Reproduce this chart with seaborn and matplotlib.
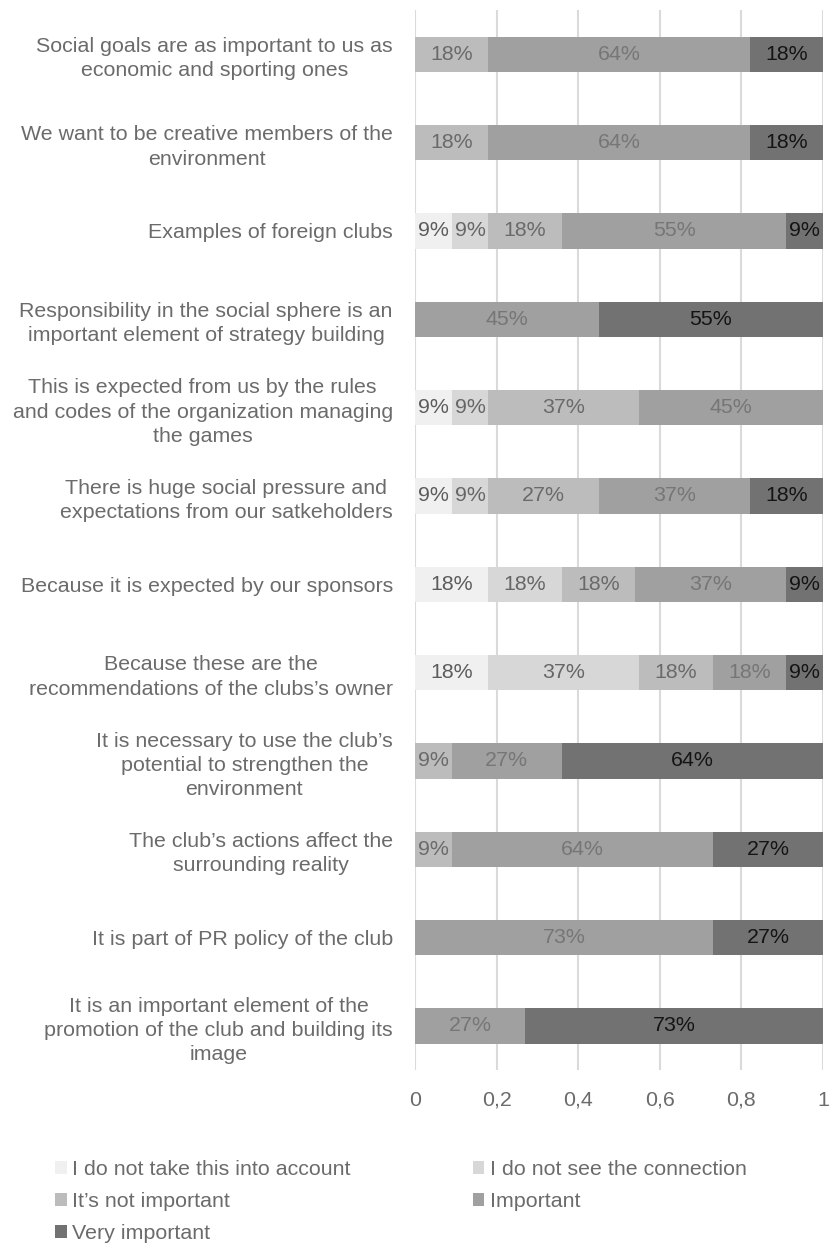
import numpy as np
import matplotlib
matplotlib.use("Agg")
import matplotlib.pyplot as plt
from matplotlib.patches import Patch
import seaborn as sns

sns.set_style("white")
plt.rcParams["font.family"] = ["Liberation Sans", "DejaVu Sans"]

# Survey statements, top to bottom
statements = [
    "Social goals are as important to us as\neconomic and sporting ones",
    "We want to be creative members of the\nenvironment",
    "Examples of foreign clubs",
    "Responsibility in the social sphere is an\nimportant element of strategy building",
    "This is expected from us by the rules\nand codes of the organization managing\nthe games",
    "There is huge social pressure and\nexpectations from our satkeholders",
    "Because it is expected by our sponsors",
    "Because these are the\nrecommendations of the clubs\u2019s owner",
    "It is necessary to use the club\u2019s\npotential to strengthen the\nenvironment",
    "The club\u2019s actions affect the\nsurrounding reality",
    "It is part of PR policy of the club",
    "It is an important element of the\npromotion of the club and building its\nimage",
]

responses = [
    "I do not take this into account",
    "I do not see the connection",
    "It\u2019s not important",
    "Important",
    "Very important",
]

# Percent of answers per statement
not_taken_into_account = [0, 0, 9, 0, 9, 9, 18, 18, 0, 0, 0, 0]
no_connection = [0, 0, 9, 0, 9, 9, 18, 37, 0, 0, 0, 0]
not_important = [18, 18, 18, 0, 37, 27, 18, 18, 9, 9, 0, 0]
important = [64, 64, 55, 45, 45, 37, 37, 18, 27, 64, 73, 27]
very_important = [18, 18, 9, 55, 0, 18, 9, 9, 64, 27, 27, 73]

x_ticks = [0, 0.2, 0.4, 0.6, 0.8, 1]
x_tick_labels = ["0", "0,2", "0,4", "0,6", "0,8", "1"]

colors = ["#f0f0f0", "#d6d7d6", "#bcbcbc", "#a0a0a0", "#727272"]
label_colors = ["#5c5c5c", "#666666", "#6a6a6a", "#767676", "#141414"]
text_gray = "#6b6b6b"
font_size = 15.4

series = np.array([not_taken_into_account, no_connection, not_important,
                   important, very_important], dtype=float)
shares = series / 100.0
cumulative = shares.cumsum(axis=0)

fig = plt.figure(figsize=(8.31, 12.5), dpi=100)
ax = fig.add_axes([0.4994, 0.144, 0.4910, 0.848])

# Stacked bars: draw running totals from the widest layer down
for k in reversed(range(len(responses))):
    sns.barplot(x=cumulative[k], y=statements, color=colors[k], orient="h",
                width=0.4, saturation=1, linewidth=0, ax=ax)

# Percent labels centred on each segment
for k in range(len(responses)):
    for i, v in enumerate(series[k]):
        if v <= 0:
            continue
        xc = cumulative[k][i] - shares[k][i] / 2
        ax.text(xc, i, f"{int(v)}%", ha="center", va="center",
                fontsize=font_size, color=label_colors[k])

ax.set_xlim(0, 1)
ax.set_ylim(len(statements) - 0.5, -0.5)
ax.set_xticks(x_ticks)
ax.set_xticklabels(x_tick_labels)
ax.grid(axis="x", color="#dadada", linewidth=1.5)
ax.grid(axis="y", visible=False)
ax.set_axisbelow(True)
for s in ax.spines.values():
    s.set_visible(False)
ax.set_xlabel("")
ax.set_ylabel("")
ax.tick_params(axis="y", length=0, pad=16, labelsize=font_size, labelcolor=text_gray)
ax.tick_params(axis="x", length=0, pad=15, labelsize=font_size, labelcolor=text_gray)
for lab in ax.get_yticklabels():
    lab.set_multialignment("center")
    lab.set_linespacing(1.34)

# Legend laid out row by row in two columns
handles = [Patch(facecolor=c, edgecolor="none") for c in colors]
order = [0, 2, 4, 1, 3]
leg = fig.legend([handles[i] for i in order], [responses[i] for i in order],
                 loc="upper left", bbox_to_anchor=(0.0664, 0.0720),
                 ncol=2, frameon=False, fontsize=font_size,
                 handlelength=0.55, handleheight=0.55, handletextpad=0.25,
                 labelspacing=0.6, columnspacing=5.7, borderaxespad=0,
                 borderpad=0)
for t in leg.get_texts():
    t.set_color(text_gray)

fig.savefig("out.png", dpi=100)
